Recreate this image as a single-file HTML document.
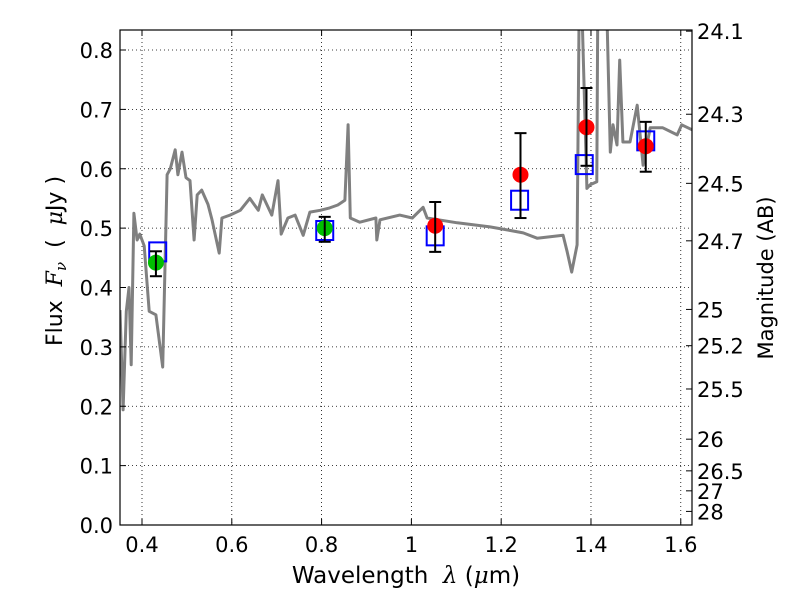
<!DOCTYPE html>
<html><head><meta charset="utf-8"><style>
body{margin:0;background:#fff;}
svg text{font-family:"DejaVu Sans","Liberation Sans",sans-serif;fill:#000;white-space:pre;}
.m{font-family:"DejaVu Serif","Liberation Serif",serif;font-style:italic;}
</style></head><body>
<svg id="chart" width="800" height="600" xmlns="http://www.w3.org/2000/svg" xml:space="preserve">
<defs><clipPath id="clip"><rect x="120" y="30" width="572" height="495"/></clipPath></defs>
<g id="grid"></g>
<g id="marks" clip-path="url(#clip)"></g>
<rect x="120" y="30" width="572" height="495" fill="none" stroke="#000" stroke-width="1.2"/>
<g id="axes"></g>
<text x="406" y="583" font-size="23" text-anchor="middle">Wavelength  <tspan class="m">λ</tspan> (<tspan class="m">μ</tspan>m)</text>
<text transform="translate(62,261) rotate(-90)" font-size="22" text-anchor="middle">Flux  <tspan class="m">F</tspan><tspan class="m" font-size="15" dy="4">ν</tspan><tspan dy="-4">  (  </tspan><tspan class="m">μ</tspan>Jy )</text>
<text transform="translate(773,278) rotate(-90)" font-size="21" text-anchor="middle">Magnitude (AB)</text>
</svg>
<script>
const xTicks=[0.4,0.6,0.8,1.0,1.2,1.4,1.6];
const xTickLabels=["0.4","0.6","0.8","1","1.2","1.4","1.6"];
const yTicks=[0,0.1,0.2,0.3,0.4,0.5,0.6,0.7,0.8];
const yTickLabels=["0.0","0.1","0.2","0.3","0.4","0.5","0.6","0.7","0.8"];
const magTicks=[24.1,24.3,24.5,24.7,25,25.2,25.5,26,26.5,27,28];
const specWave=[0.351,0.358,0.365,0.371,0.376,0.382,0.389,0.395,0.405,0.416,0.431,0.446,0.456,0.463,0.474,0.480,0.489,0.498,0.507,0.516,0.523,0.533,0.547,0.556,0.572,0.578,0.596,0.619,0.640,0.659,0.668,0.689,0.703,0.710,0.725,0.741,0.759,0.774,0.797,0.818,0.836,0.852,0.859,0.864,0.885,0.921,0.923,0.930,0.974,1.002,1.026,1.035,1.102,1.175,1.213,1.249,1.280,1.338,1.347,1.357,1.369,1.375,1.391,1.398,1.413,1.416,1.431,1.443,1.449,1.458,1.464,1.471,1.487,1.503,1.516,1.532,1.560,1.592,1.602,1.627];
const specFlux=[0.362,0.194,0.36,0.40,0.27,0.525,0.48,0.49,0.47,0.36,0.354,0.266,0.59,0.60,0.632,0.59,0.628,0.585,0.58,0.48,0.556,0.564,0.54,0.514,0.458,0.517,0.522,0.53,0.55,0.53,0.556,0.522,0.58,0.49,0.517,0.522,0.488,0.527,0.53,0.534,0.539,0.547,0.674,0.517,0.51,0.517,0.48,0.514,0.522,0.517,0.535,0.517,0.509,0.502,0.497,0.492,0.483,0.488,0.46,0.426,0.472,1.0,0.567,0.573,0.578,1.0,1.0,0.628,0.674,0.64,0.783,0.645,0.645,0.707,0.606,0.669,0.669,0.657,0.674,0.665];
const obsWave=[0.431,0.807,1.053,1.243,1.390,1.522];
const obsFlux=[0.442,0.50,0.504,0.59,0.67,0.638];
const obsLow=[0.419,0.477,0.46,0.517,0.605,0.595];
const obsHigh=[0.461,0.519,0.544,0.66,0.736,0.679];
const obsColor=["#00c000","#00c000","red","red","red","red"];
const modelWave=[0.435,0.807,1.053,1.241,1.385,1.522];
const modelFlux=[0.46,0.496,0.487,0.547,0.607,0.647];

const X0=120,X1=692,Y0=525,Y1=30,xmin=0.351,xmax=1.625,ymin=0,ymax=0.8337;
const sx=v=>X0+(v-xmin)/(xmax-xmin)*(X1-X0);
const sy=v=>Y0-(v-ymin)/(ymax-ymin)*(Y0-Y1);
const NS="http://www.w3.org/2000/svg";
function mk(tag,attrs,parent){const e=document.createElementNS(NS,tag);for(const k in attrs)e.setAttribute(k,attrs[k]);parent.appendChild(e);return e;}
const grid=document.getElementById('grid'),marks=document.getElementById('marks'),axes=document.getElementById('axes');
xTicks.forEach((t,i)=>{const x=sx(t);
 const g=mk('line',{x1:x,x2:x,y1:Y1,y2:Y0,stroke:'#000','stroke-width':0.8,'stroke-dasharray':'1,3'},grid);
 
 
 mk('line',{x1:x,x2:x,y1:Y0,y2:Y0-6,stroke:'#000'},axes);
 mk('line',{x1:x,x2:x,y1:Y1,y2:Y1+6,stroke:'#000'},axes);
 const tx=mk('text',{x:x,y:Y0+27,'font-size':21,'text-anchor':'middle'},axes);tx.textContent=xTickLabels[i];
 
 });
yTicks.forEach((t,i)=>{const y=sy(t);
 const g=mk('line',{x1:X0,x2:X1,y1:y,y2:y,stroke:'#000','stroke-width':0.8,'stroke-dasharray':'1,3'},grid);
 
 
 mk('line',{x1:X0,x2:X0+6,y1:y,y2:y,stroke:'#000'},axes);
 const tx=mk('text',{x:X0-7,y:y+8,'font-size':21,'text-anchor':'end'},axes);tx.textContent=yTickLabels[i];
 
 });
magTicks.forEach(m=>{const f=Math.pow(10,(23.9-m)/2.5);const y=sy(f);
 mk('line',{x1:X1,x2:X1-6,y1:y,y2:y,stroke:'#000'},axes);
 const tx=mk('text',{x:X1+5,y:y+8,'font-size':21},axes);tx.textContent=String(m);
 
 });
const pts=specWave.map((w,i)=>sx(w).toFixed(1)+','+sy(specFlux[i]).toFixed(1)).join(' ');
const sp=mk('polyline',{points:pts,fill:'none',stroke:'#808080','stroke-width':3,'stroke-linejoin':'round'},marks);


modelWave.forEach((w,i)=>{const x=sx(w),y=sy(modelFlux[i]);
 const r=mk('rect',{x:x-8.5,y:y-9.5,width:17,height:19,fill:'none',stroke:'#0000ff','stroke-width':2},marks);
 
 });
obsWave.forEach((w,i)=>{const x=sx(w);
 const c=mk('circle',{cx:x,cy:sy(obsFlux[i]),r:8,fill:obsColor[i]},marks);
 
 
 const g=mk('g',{stroke:'#000','stroke-width':2},marks);
 
 
 mk('line',{x1:x,x2:x,y1:sy(obsLow[i]),y2:sy(obsHigh[i])},g);
 mk('line',{x1:x-6,x2:x+6,y1:sy(obsLow[i]),y2:sy(obsLow[i])},g);
 mk('line',{x1:x-6,x2:x+6,y1:sy(obsHigh[i]),y2:sy(obsHigh[i])},g);});
</script>
</body></html>
